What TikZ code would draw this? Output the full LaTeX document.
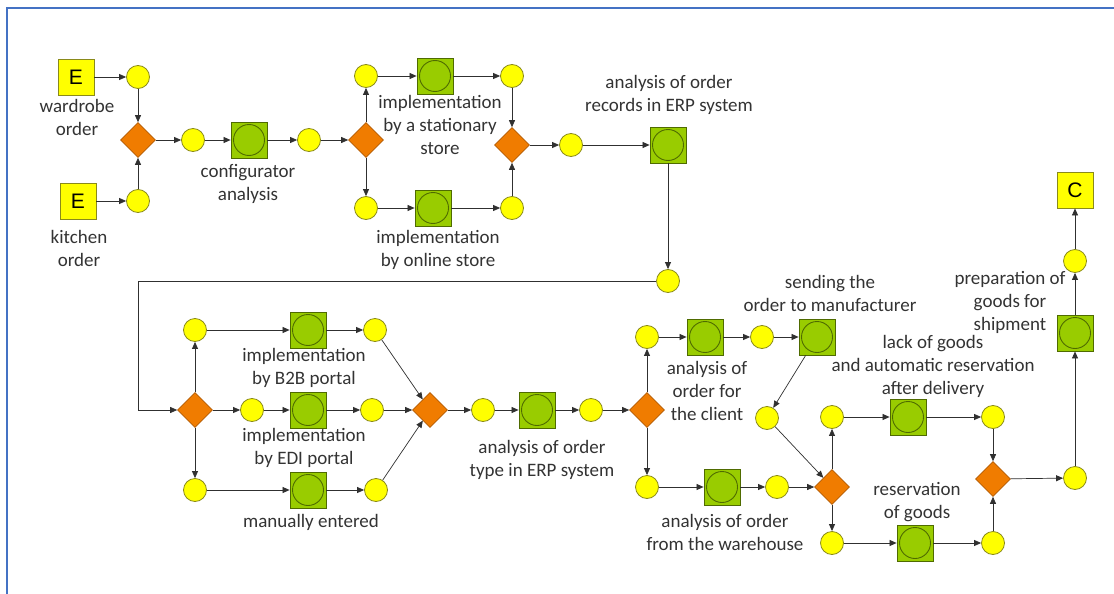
\documentclass[tikz,border=0pt]{standalone}
\usepackage{fontspec}
\setmainfont{Carlito}
\newfontfamily\arialf{Liberation Sans}
\usetikzlibrary{shapes.geometric,arrows.meta}
\definecolor{frameblue}{HTML}{4472C4}
\definecolor{evfill}{HTML}{FFFF00}
\definecolor{evline}{HTML}{8A8A1A}
\definecolor{gwfill}{HTML}{F07C00}
\definecolor{gwline}{HTML}{B35A00}
\definecolor{fnfill}{HTML}{99CC00}
\definecolor{fnline}{HTML}{4F6B00}
\definecolor{txt}{HTML}{333333}
\definecolor{conn}{HTML}{303030}
\tikzset{
  ev/.style={circle,draw=evline,fill=evfill,minimum size=23pt,inner sep=0pt,line width=0.8pt},
  gw/.style={diamond,draw=gwline,fill=gwfill,minimum width=35pt,minimum height=35pt,inner sep=0pt,line width=0.6pt},
  fn/.style={rectangle,draw=fnline,fill=fnfill,minimum size=36pt,inner sep=0pt,line width=0.8pt,
     path picture={\draw[fnline,line width=0.9pt] (path picture bounding box.center) circle (15.5pt);}},
  ext/.style={rectangle,draw=evline,fill=evfill,minimum size=36pt,inner sep=0pt,line width=0.8pt,
     font=\arialf\fontsize{21}{21}\selectfont},
  lbl/.style={align=center,text=txt,inner sep=0pt,font=\fontsize{19}{23}\selectfont},
  flow/.style={draw=conn,line width=0.7pt,-{Triangle[length=7pt,width=6pt]}}
}
\begin{document}
\begin{tikzpicture}[x=1pt,y=-1pt]
\useasboundingbox (0,0) rectangle (1114,594);
\draw[frameblue,line width=2.5pt] (7,594) -- (7,8) -- (1114,8);
% top section
\node[ext] (E1) at (76,77) {E};
\node[ev] (c1) at (138,77) {};
\node[ext] (E2) at (78,201) {E};
\node[ev] (c2) at (138,201) {};
\node[gw] (D1) at (138,140) {};
\node[ev] (c3) at (193,140) {};
\node[fn] (F1) at (249,140) {};
\node[ev] (c4) at (309,140) {};
\node[gw] (D2) at (366,140) {};
\node[ev] (c5) at (366,76) {};
\node[fn] (F2) at (435,76) {};
\node[ev] (c6) at (512,76) {};
\node[ev] (c7) at (366,208) {};
\node[fn] (F3) at (433,208) {};
\node[ev] (c8) at (512,208) {};
\node[gw] (D3) at (512,145) {};
\node[ev] (c9) at (571,145) {};
\node[fn] (F4) at (668,145) {};
\node[ev] (c10) at (668,281) {};
\node[lbl] (L1) at (77,117) {wardrobe\\order};
\node[lbl] (L2) at (79,248) {kitchen\\order};
\node[lbl] (L3) at (248,184) {configurator\\analysis};
\node[lbl] (L4) at (440,125) {implementation\\by a stationary\\store};
\node[lbl] (L5) at (438,250) {implementation\\by online store};
\node[lbl] (L6) at (669,95) {analysis of order\\records in ERP system};
% middle section
\node[gw] (D4) at (195,410) {};
\node[ev] (c11) at (195,330) {};
\node[fn] (F5) at (308,330) {};
\node[ev] (c12) at (375,330) {};
\node[ev] (c13) at (252,410) {};
\node[fn] (F6) at (308,410) {};
\node[ev] (c14) at (372,410) {};
\node[ev] (c15) at (195,490) {};
\node[fn] (F7) at (308,490) {};
\node[ev] (c16) at (376,490) {};
\node[gw] (D5) at (430,410) {};
\node[ev] (c17) at (483,410) {};
\node[fn] (F8) at (537,410) {};
\node[ev] (c18) at (591,410) {};
\node[gw] (D6) at (647,410) {};
\node[ev] (c19) at (647,337) {};
\node[fn] (F9) at (705,337) {};
\node[ev] (c20) at (762,337) {};
\node[fn] (F10) at (817,337) {};
\node[ev] (c21) at (767,418) {};
\node[ev] (c22) at (647,487) {};
\node[fn] (F11) at (722,487) {};
\node[ev] (c23) at (777,487) {};
\node[gw] (D7) at (832,487) {};
\node[ev] (c24) at (832,417) {};
\node[fn] (F12) at (908,417) {};
\node[ev] (c26) at (993,417) {};
\node[ev] (c25) at (832,543) {};
\node[fn] (F13) at (915,543) {};
\node[ev] (c27) at (993,543) {};
\node[gw] (D8) at (993,479) {};
\node[ev] (c28) at (1075,478) {};
\node[fn] (F14) at (1075,333) {};
\node[ev] (c29) at (1075,261) {};
\node[ext] (C) at (1075,190) {C};
\node[lbl] (L7) at (304,368) {implementation\\by B2B portal};
\node[lbl] (L8) at (304,448) {implementation\\by EDI portal};
\node[lbl] (L9) at (311,522) {manually entered};
\node[lbl] (L10) at (542,460) {analysis of order\\type in ERP system};
\node[lbl] (L11) at (707,391) {analysis of\\order for\\the client};
\node[lbl] (L12) at (830,293) {sending the\\order to manufacturer};
\node[lbl] (L13) at (725,532) {analysis of order\\from the warehouse};
\node[lbl] (L14) at (933,366) {lack of goods\\and automatic reservation\\after delivery};
\node[lbl] (L15) at (917,502) {reservation\\of goods};
\node[lbl] (L16) at (1010,302) {preparation of\\goods for\\shipment};
\coordinate (k1) at (138,281);
\coordinate (k2) at (138,410);
% connectors
\draw[flow] (E1) -- (c1);
\draw[flow] (c1) -- (D1);
\draw[flow] (E2) -- (c2);
\draw[flow] (c2) -- (D1);
\draw[flow] (D1) -- (c3);
\draw[flow] (c3) -- (F1);
\draw[flow] (F1) -- (c4);
\draw[flow] (c4) -- (D2);
\draw[flow] (D2) -- (c5);
\draw[flow] (c5) -- (F2);
\draw[flow] (F2) -- (c6);
\draw[flow] (c6) -- (D3);
\draw[flow] (D2) -- (c7);
\draw[flow] (c7) -- (F3);
\draw[flow] (F3) -- (c8);
\draw[flow] (c8) -- (D3);
\draw[flow] (D3) -- (c9);
\draw[flow] (c9) -- (F4);
\draw[flow] (F4) -- (c10);
\draw[flow] (c10) -- (k1) -- (k2) -- (D4);
\draw[flow] (D4) -- (c11);
\draw[flow] (c11) -- (F5);
\draw[flow] (F5) -- (c12);
\draw[flow] (c12) -- (D5);
\draw[flow] (D4) -- (c13);
\draw[flow] (c13) -- (F6);
\draw[flow] (F6) -- (c14);
\draw[flow] (c14) -- (D5);
\draw[flow] (D4) -- (c15);
\draw[flow] (c15) -- (F7);
\draw[flow] (F7) -- (c16);
\draw[flow] (c16) -- (D5);
\draw[flow] (D5) -- (c17);
\draw[flow] (c17) -- (F8);
\draw[flow] (F8) -- (c18);
\draw[flow] (c18) -- (D6);
\draw[flow] (D6) -- (c19);
\draw[flow] (c19) -- (F9);
\draw[flow] (F9) -- (c20);
\draw[flow] (c20) -- (F10);
\draw[flow] (F10) -- (c21);
\draw[flow] (c21) -- (D7);
\draw[flow] (D6) -- (c22);
\draw[flow] (c22) -- (F11);
\draw[flow] (F11) -- (c23);
\draw[flow] (c23) -- (D7);
\draw[flow] (D7) -- (c24);
\draw[flow] (c24) -- (F12);
\draw[flow] (F12) -- (c26);
\draw[flow] (c26) -- (D8);
\draw[flow] (D7) -- (c25);
\draw[flow] (c25) -- (F13);
\draw[flow] (F13) -- (c27);
\draw[flow] (c27) -- (D8);
\draw[flow] (D8) -- (c28);
\draw[flow] (c28) -- (F14);
\draw[flow] (F14) -- (c29);
\draw[flow] (c29) -- (C);
\end{tikzpicture}
\end{document}
